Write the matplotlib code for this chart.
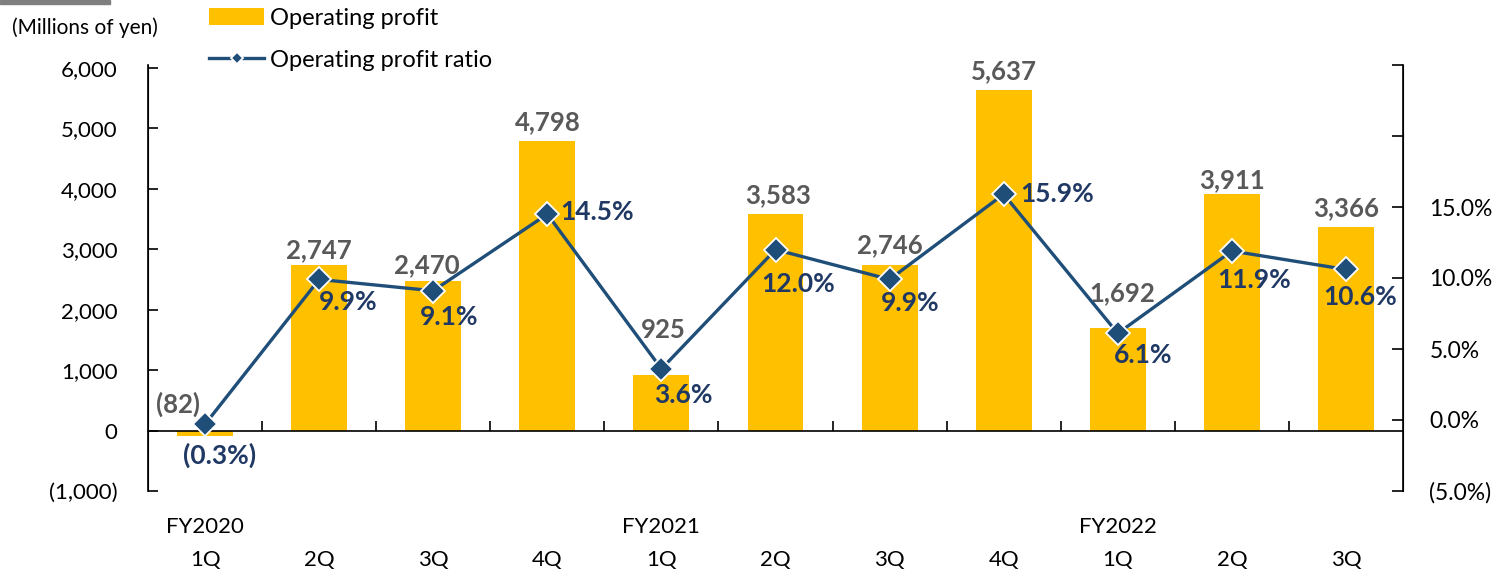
import matplotlib.pyplot as plt
import matplotlib.patches as mpatches
from matplotlib.ticker import FuncFormatter

plt.rcParams['font.family'] = ['Lato', 'DejaVu Sans']

quarters = ['1Q', '2Q', '3Q', '4Q', '1Q', '2Q', '3Q', '4Q', '1Q', '2Q', '3Q']
fiscal_years = {0: 'FY2020', 4: 'FY2021', 8: 'FY2022'}
op_profit = [-82, 2747, 2470, 4798, 925, 3583, 2746, 5637, 1692, 3911, 3366]
op_ratio = [-0.3, 9.9, 9.1, 14.5, 3.6, 12.0, 9.9, 15.9, 6.1, 11.9, 10.6]

# label nudges (pixels), excel labels were moved by hand
bar_lbl_off = [(-27, 26), (0, 14), (-6, 16), (0, 19), (2, 45), (3, 19),
               (0, 20), (0, 19), (4, 35), (0, 14), (0, 19)]
ratio_lbl_off = [(15, -31), (29, -23), (16, -26), (50, 2), (22, -26), (23, -34),
                 (21, -24), (53, 0), (25, -22), (22, -29), (14, -28)]

BAR = '#FFC000'
LINE = '#1F4E79'
LBL_BLUE = '#1F3864'
LBL_GRAY = '#595959'

fig = plt.figure(figsize=(14.97, 5.77), dpi=100)
ax = fig.add_axes([148 / 1497, 1 - 491 / 577, (1403 - 148) / 1497, (491 - 65) / 577])
ax2 = ax.twinx()

x = list(range(len(op_profit)))
bars = ax.bar(x, op_profit, width=0.49, color=BAR, zorder=2, label='Operating profit')
ln, = ax2.plot(x, op_ratio, color=LINE, lw=2.4, marker='D', ms=12,
               mfc=LINE, mec='white', mew=1.3, zorder=3, label='Operating profit ratio')

ax.set_xlim(-0.5, len(x) - 0.5)
ax.set_ylim(-1000, 6050)
ax2.set_ylim(-5, 25)

px = 0.72  # pixels -> points
for i, v in enumerate(op_profit):
    base = max(v, 0)
    txt = '({:,})'.format(-v) if v < 0 else '{:,}'.format(v)
    dx, dy = bar_lbl_off[i]
    ax.annotate(txt, (i, base), xytext=(dx * px, dy * px), textcoords='offset points',
                ha='center', va='center', fontsize=18.5, fontweight='bold', color=LBL_GRAY, zorder=5)

for i, r in enumerate(op_ratio):
    txt = '({:.1f}%)'.format(-r) if r < 0 else '{:.1f}%'.format(r)
    dx, dy = ratio_lbl_off[i]
    ax2.annotate(txt, (i, r), xytext=(dx * px, dy * px), textcoords='offset points',
                 ha='center', va='center', fontsize=19, fontweight='bold', color=LBL_BLUE, zorder=5)

# axes styling
for a in (ax, ax2):
    a.spines['top'].set_visible(False)
ax.spines['bottom'].set_position(('data', 0))
ax2.spines['bottom'].set_visible(False)
ax.spines['left'].set_linewidth(1.2)
ax2.spines['right'].set_linewidth(1.2)
ax.spines['bottom'].set_linewidth(1.2)

ax.set_yticks(range(-1000, 6001, 1000))
ax.yaxis.set_major_formatter(FuncFormatter(
    lambda v, p: '({:,.0f})'.format(-v) if v < 0 else '{:,.0f}'.format(v)))
ax.tick_params(axis='y', direction='in', length=7, width=1.2, pad=22, labelsize=16)

ax2.set_yticks(range(-5, 26, 5))
ax2.yaxis.set_major_formatter(FuncFormatter(
    lambda v, p: '' if v > 15 else ('({:.1f}%)'.format(-v) if v < 0 else '{:.1f}%'.format(v))))
ax2.tick_params(axis='y', direction='in', length=8, width=1.2, pad=19, labelsize=16.5)

ax.set_xticks(x)
ax.set_xticklabels(quarters)
ax.set_xticks([i + 0.5 for i in x[:-1]], minor=True)
ax.tick_params(axis='x', which='major', length=0, pad=86, labelsize=16)
ax.tick_params(axis='x', which='minor', direction='in', length=7, width=1.2)

for i, fy in fiscal_years.items():
    ax.text(i, -0.0845, fy, transform=ax.get_xaxis_transform(), ha='center', va='center',
            fontsize=16)

# header bits
fig.text(12 / 1497, 1 - 28 / 577, '(Millions of yen)', fontsize=15, va='center', ha='left')
fig.patches.append(mpatches.Rectangle((0, 1 - 4 / 577), 110 / 1497, 4 / 577,
                                      transform=fig.transFigure, color='#7F7F7F'))

fig.legend(handles=[bars, ln], loc='upper left', bbox_to_anchor=(209 / 1497, 1 - 8 / 577),
           frameon=False, fontsize=17, handlelength=2.33, handletextpad=0.25,
           labelspacing=0.87, borderpad=0, borderaxespad=0, markerscale=0.55)

fig.savefig('out.png', dpi=100)
